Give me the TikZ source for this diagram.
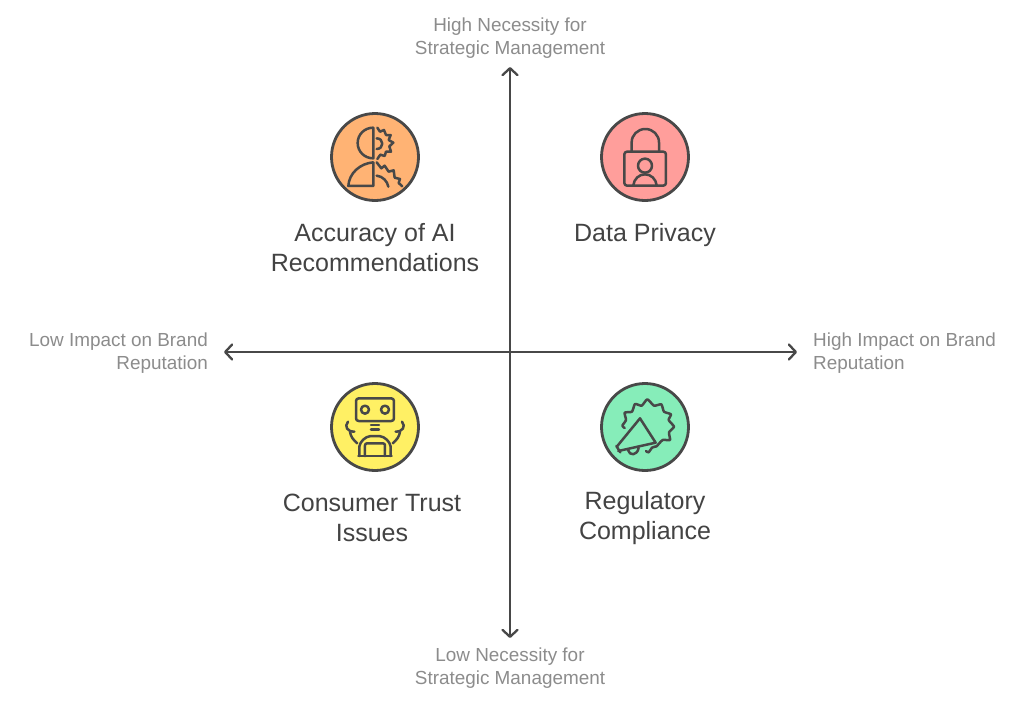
\documentclass[tikz,border=0pt]{standalone}
\usepackage{fontspec}
\setmainfont{Liberation Sans}
\usetikzlibrary{arrows.meta}
\definecolor{ink}{HTML}{484848}
\definecolor{maintext}{HTML}{434343}
\definecolor{axistext}{HTML}{8C8C8C}
\definecolor{fillorange}{HTML}{FFB374}
\definecolor{fillred}{HTML}{FF9E9B}
\definecolor{fillyellow}{HTML}{FFF064}
\definecolor{fillgreen}{HTML}{86EDB9}
\tikzset{
  x=1pt,y=-1pt,
  axisline/.style={draw=ink,line width=2.3pt,{Straight Barb[length=7pt,width=15pt,line cap=round,round]}-{Straight Barb[length=7pt,width=15pt,line cap=round,round]}},
  badge/.style={circle,draw=ink,line width=2.8pt,minimum size=87pt,inner sep=0pt},
  mainlabel/.style={text=maintext,font=\fontsize{25}{30}\selectfont,align=center,inner sep=0pt},
  axislabel/.style={text=axistext,font=\fontsize{18.9}{23}\selectfont,inner sep=0pt},
  glyph/.style={draw=ink,line width=2.5pt,line join=round,line cap=round},
  icon/.style={shift={(#1)},x=0.3333pt,y=-0.3333pt},
}
\begin{document}
\begin{tikzpicture}
\useasboundingbox (0,0) rectangle (1020,705);
\fill[white] (0,0) rectangle (1020,705);
\coordinate (axistop) at (510,67);
\coordinate (axisbottom) at (510,638);
\coordinate (axisleft) at (224,352);
\coordinate (axisright) at (797,352);
\draw[axisline] (axisbottom) -- (axistop);
\draw[axisline] (axisleft) -- (axisright);

\node[axislabel,align=center] (hinec) at (510,38) {High Necessity for\\Strategic Management};
\node[axislabel,align=center] (lonec) at (510,668) {Low Necessity for\\Strategic Management};
\node[axislabel,align=right,anchor=east] (loimp) at (208,353) {Low Impact on Brand\\Reputation};
\node[axislabel,align=left,anchor=west] (hiimp) at (813,353) {High Impact on Brand\\Reputation};

\node[badge,fill=fillorange] (accbadge) at (375,157) {};
\node[badge,fill=fillred] (privbadge) at (645,157) {};
\node[badge,fill=fillyellow] (trustbadge) at (375,427) {};
\node[badge,fill=fillgreen] (regbadge) at (645,427) {};

\node[mainlabel] (acc) at (375,248) {Accuracy of AI\\Recommendations};
\node[mainlabel] (priv) at (645,235) {Data Privacy};
\node[mainlabel] (trust) at (372,518) {Consumer Trust\\Issues};
\node[mainlabel] (reg) at (645,518) {Regulatory\\Compliance};

% accuracy icon
\begin{scope}[icon={320pt,-105pt}]
\draw[glyph] (160,68) -- (160,160) .. controls (134,160) and (113,140) .. (113,114) .. controls (113,88) and (134,68) .. (160,68);
\draw[glyph] (160,172) -- (160,243) -- (85,243) .. controls (87,205) and (120,175) .. (160,172);
\draw[glyph] (172,68) -- (180,80) -- (192,75) -- (198,90) -- (212,90) -- (206,105) -- (220,113) -- (208,124) -- (213,140) -- (198,140) -- (194,153) -- (181,149) -- (172,162);
\draw[glyph] (170,100) .. controls (180,100) and (187,107) .. (187,116) .. controls (187,125) and (180,132) .. (170,132);
\draw[glyph] (170,172) -- (184,190) -- (194,182) -- (206,200) -- (221,196) -- (224,218) -- (240,222) -- (236,234) -- (247,244);
\draw[glyph] (170,212) .. controls (188,214) and (202,228) .. (205,245);
\end{scope}

% privacy icon
\begin{scope}[icon={590pt,-105pt}]
\draw[glyph,rounded corners=2.7pt] (103,140) rectangle (228,242);
\draw[glyph] (125,140) -- (125,112) .. controls (125,90) and (143,72) .. (166,72) .. controls (189,72) and (207,90) .. (207,112) -- (207,140);
\draw[glyph] (165,182) circle[radius=7pt];
\draw[glyph] (130,241) .. controls (132,222) and (147,208) .. (165,208) .. controls (183,208) and (198,222) .. (200,241);
\end{scope}

% trust icon
\begin{scope}[icon={320pt,-375pt}]
\draw[glyph,rounded corners=2.7pt] (108,70) rectangle (222,138);
\draw[glyph] (135,104) circle[radius=4pt];
\draw[glyph] (195,104) circle[radius=4pt];
\draw[glyph] (153,150) -- (177,150);
\draw[glyph] (153,163) -- (177,163);
\draw[glyph] (84,140) .. controls (72,155) and (82,170) .. (103,170);
\draw[glyph] (246,140) .. controls (258,155) and (248,170) .. (227,170);
\draw[glyph] (90,170) .. controls (92,185) and (100,195) .. (112,205);
\draw[glyph] (240,170) .. controls (238,185) and (230,195) .. (218,205);
\draw[glyph] (115,243) -- (215,243);
\draw[glyph] (118,243) -- (118,215) .. controls (120,200) and (135,185) .. (152,183) -- (178,183) .. controls (195,185) and (210,200) .. (212,215) -- (212,243);
\draw[glyph,rounded corners=2pt] (135,243) -- (135,205) -- (195,205) -- (195,243);
\end{scope}

% compliance icon
\begin{scope}[icon={590pt,-375pt}]
\draw[glyph] plot[smooth,tension=0.35] coordinates {(104,159) (97,152) (108,135) (104,113) (126,110) (135,87) (155,92) (172,73) (192,92) (214,88) (222,110) (243,118) (236,135) (252,155) (237,172) (240,195) (218,195) (200,214)};
\draw[glyph] plot[smooth,tension=0.5] coordinates {(200,214) (186,218) (176,232) (168,228)};
\draw[glyph] (150,130) -- (197,203) -- (85,228);
\draw[glyph] (150,130) -- (82,213);
\draw[glyph] (79,213) -- (91,232);
\draw[glyph] (114,225) .. controls (118,243) and (142,243) .. (146,218);
\end{scope}
\end{tikzpicture}
\end{document}
